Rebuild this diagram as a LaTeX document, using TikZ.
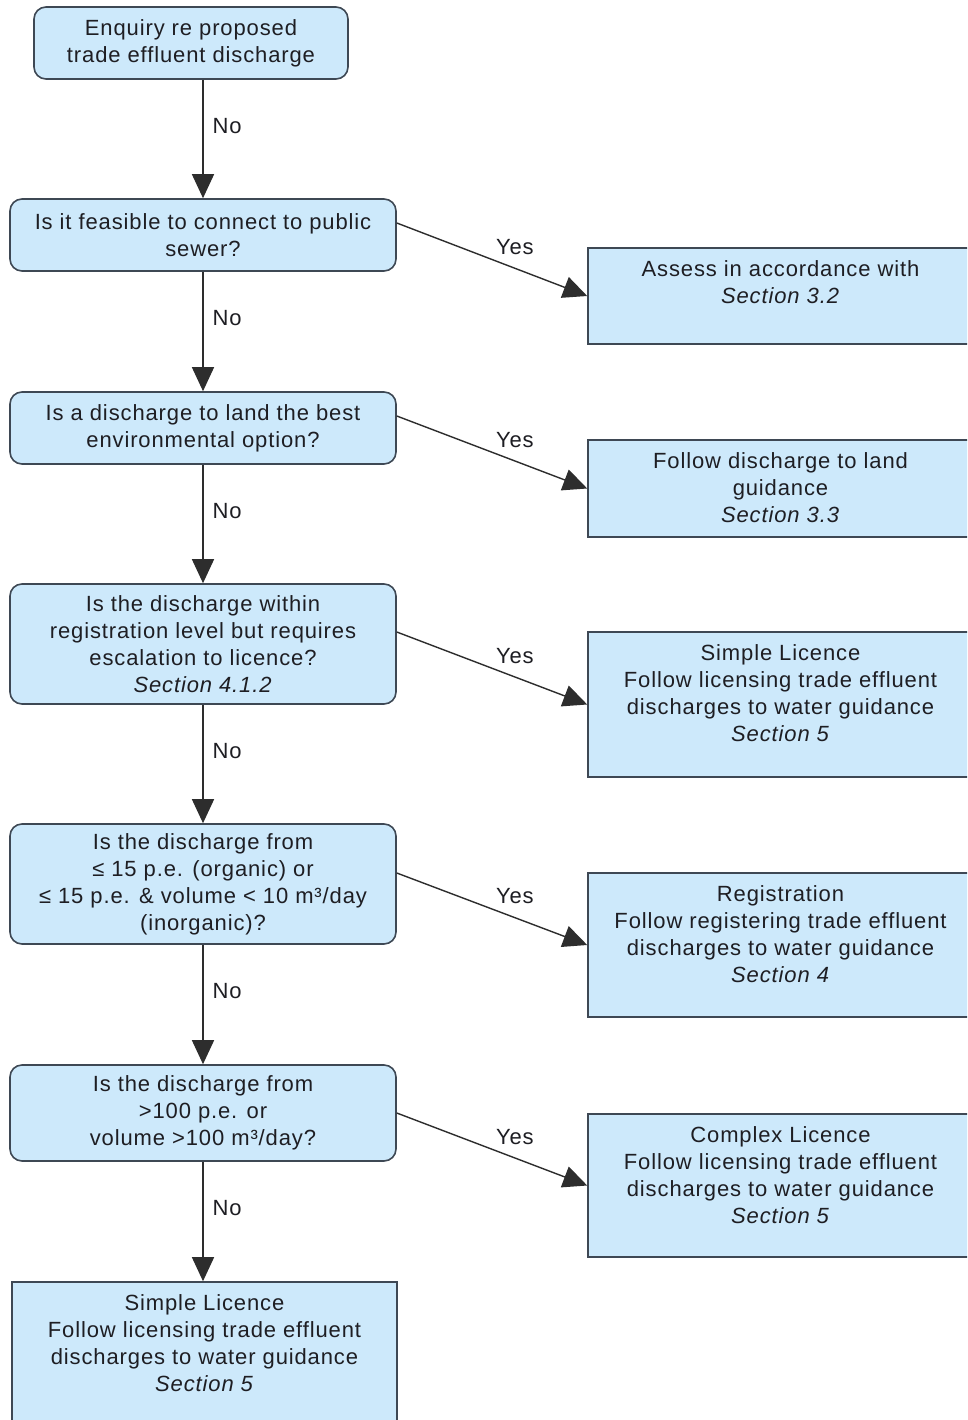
\documentclass[tikz,border=0pt]{standalone}
\usepackage{fontspec}
\setmainfont[LetterSpace=4]{Liberation Sans}
\usetikzlibrary{arrows.meta,calc}
\definecolor{boxfill}{RGB}{205,233,251}
\definecolor{boxline}{RGB}{62,72,84}
\definecolor{arrowline}{RGB}{45,45,45}
\definecolor{txtcol}{RGB}{30,30,35}
\tikzset{
  basefont/.style={font=\fontsize{22}{27}\selectfont, text=txtcol},
  decbox/.style={basefont, draw=boxline, line width=1.6pt, fill=boxfill, rounded corners=12pt, align=center, inner sep=0pt},
  outbox/.style={draw=boxline, line width=1.6pt, fill=boxfill, inner sep=0pt},
  outtext/.style={basefont, align=center, inner sep=0pt, anchor=north},
  lab/.style={basefont, inner sep=1pt},
  conn/.style={draw=arrowline, line width=1.4pt, -{Triangle[length=24pt,width=22pt]}}
}
\begin{document}
\begin{tikzpicture}[x=1pt,y=-1pt]
\clip (0,0) rectangle (967,1420);
\fill[white] (0,0) rectangle (967,1420);

% left column
\node[decbox, minimum width=314pt, minimum height=72pt] (start) at (191,43) {Enquiry re proposed\\trade effluent discharge};
\node[decbox, minimum width=386pt, minimum height=72pt] (q1) at (203,235) {Is it feasible to connect to public\\sewer?};
\node[decbox, minimum width=386pt, minimum height=72pt] (q2) at (203,428) {Is a discharge to land the best\\environmental option?};
\node[decbox, minimum width=386pt, minimum height=120pt] (q3) at (203,644) {Is the discharge within\\registration level but requires\\escalation to licence?\\\textit{Section 4.1.2}};
\node[decbox, minimum width=386pt, minimum height=120pt] (q4) at (203,884) {Is the discharge from\\≤ 15 p.e. (organic) or\\≤ 15 p.e. \& volume < 10 m³/day\\(inorganic)?};
\node[decbox, minimum width=386pt, minimum height=96pt] (q5) at (203,1113) {Is the discharge from\\>100 p.e. or\\volume >100 m³/day?};
\node[outbox, minimum width=385pt, minimum height=178pt] (fin) at (204.5,1371) {};
\node[outtext] (fintext) at ([yshift=-13pt]fin.north) {Simple Licence\\Follow licensing trade effluent\\discharges to water guidance\\\textit{Section 5}};

% right column
\node[outbox, minimum width=385pt, minimum height=96pt] (r1) at (780.5,296) {};
\node[outtext] (r1text) at ([yshift=-13pt]r1.north) {Assess in accordance with\\\textit{Section 3.2}};
\node[outbox, minimum width=385pt, minimum height=97pt] (r2) at (780.5,488.5) {};
\node[outtext] (r2text) at ([yshift=-13pt]r2.north) {Follow discharge to land\\guidance\\\textit{Section 3.3}};
\node[outbox, minimum width=385pt, minimum height=145pt] (r3) at (780.5,704.5) {};
\node[outtext] (r3text) at ([yshift=-13pt]r3.north) {Simple Licence\\Follow licensing trade effluent\\discharges to water guidance\\\textit{Section 5}};
\node[outbox, minimum width=385pt, minimum height=144pt] (r4) at (780.5,945) {};
\node[outtext] (r4text) at ([yshift=-13pt]r4.north) {Registration\\Follow registering trade effluent\\discharges to water guidance\\\textit{Section 4}};
\node[outbox, minimum width=385pt, minimum height=143pt] (r5) at (780.5,1185.5) {};
\node[outtext] (r5text) at ([yshift=-13pt]r5.north) {Complex Licence\\Follow licensing trade effluent\\discharges to water guidance\\\textit{Section 5}};

% No connectors
\draw[conn] (q1.north |- start.south) -- node[lab, pos=0.39, anchor=west, xshift=8pt] (n0) {No} (q1.north);
\draw[conn] (q1.south) -- node[lab, pos=0.39, anchor=west, xshift=8pt] (n1) {No} (q2.north);
\draw[conn] (q2.south) -- node[lab, pos=0.39, anchor=west, xshift=8pt] (n2) {No} (q3.north);
\draw[conn] (q3.south) -- node[lab, pos=0.39, anchor=west, xshift=8pt] (n3) {No} (q4.north);
\draw[conn] (q4.south) -- node[lab, pos=0.39, anchor=west, xshift=8pt] (n4) {No} (q5.north);
\draw[conn] (q5.south) -- node[lab, pos=0.39, anchor=west, xshift=8pt] (n5) {No} (q5.south |- fin.north);

% Yes connectors
\draw[conn] ([yshift=12pt]q1.east) -- node[lab, pos=0.62, above=12pt] (y1) {Yes} (r1.west);
\draw[conn] ([yshift=12pt]q2.east) -- node[lab, pos=0.62, above=12pt] (y2) {Yes} (r2.west);
\draw[conn] ([yshift=12pt]q3.east) -- node[lab, pos=0.62, above=12pt] (y3) {Yes} (r3.west);
\draw[conn] ([yshift=11pt]q4.east) -- node[lab, pos=0.62, above=12pt] (y4) {Yes} (r4.west);
\draw[conn] (q5.east) -- node[lab, pos=0.62, above=12pt] (y5) {Yes} (r5.west);
\end{tikzpicture}
\end{document}
